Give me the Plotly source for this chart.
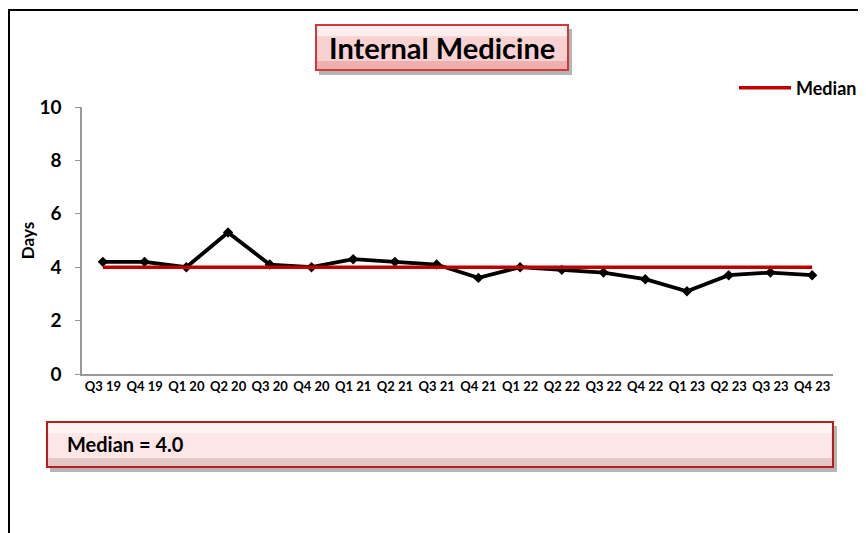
import plotly.graph_objects as go

# quarter labels and length-of-stay values (days)
quarters = ['Q3 19', 'Q4 19', 'Q1 20', 'Q2 20', 'Q3 20', 'Q4 20', 'Q1 21', 'Q2 21', 'Q3 21',
            'Q4 21', 'Q1 22', 'Q2 22', 'Q3 22', 'Q4 22', 'Q1 23', 'Q2 23', 'Q3 23', 'Q4 23']
days = [4.2, 4.2, 4.0, 5.3, 4.1, 4.0, 4.3, 4.2, 4.1,
        3.6, 4.0, 3.9, 3.8, 3.55, 3.1, 3.7, 3.8, 3.7]
median_value = 4.0
median_line = [median_value] * len(quarters)

FONT = 'Lato'

# page offset (body margin) and plot area in page pixels
OFF = 8
L, R, T, B = 82, 833, 107, 374
W, H = 866 - OFF, 533 - OFF


def px_x(p):
    return (p - L) / (R - L)


def px_y(p):
    return (B - p) / (B - T)


def box(x0, y0, x1, y1, fill, top, bottom, border):
    """bevelled box: shadow, body, highlight strip, dark strip, border"""
    h = y1 - y0
    return [
        dict(type='rect', xref='paper', yref='paper', layer='above',
             x0=px_x(x0 + 3), x1=px_x(x1 + 4), y0=px_y(y0 + 4), y1=px_y(y1 + 5),
             fillcolor='rgba(90,90,90,0.45)', line=dict(width=0)),
        dict(type='rect', xref='paper', yref='paper', layer='above',
             x0=px_x(x0), x1=px_x(x1), y0=px_y(y0), y1=px_y(y1),
             fillcolor=fill, line=dict(width=0)),
        dict(type='rect', xref='paper', yref='paper', layer='above',
             x0=px_x(x0), x1=px_x(x1), y0=px_y(y0), y1=px_y(y0 + h * 0.25),
             fillcolor=top, line=dict(width=0)),
        dict(type='rect', xref='paper', yref='paper', layer='above',
             x0=px_x(x0), x1=px_x(x1), y0=px_y(y1 - h * 0.2), y1=px_y(y1),
             fillcolor=bottom, line=dict(width=0)),
        dict(type='rect', xref='paper', yref='paper', layer='above',
             x0=px_x(x0), x1=px_x(x1), y0=px_y(y0), y1=px_y(y1),
             fillcolor='rgba(0,0,0,0)', line=dict(color=border, width=2)),
    ]


fig = go.Figure()

fig.add_trace(go.Scatter(
    x=quarters, y=days, mode='lines+markers', name='Days',
    line=dict(color='black', width=3.8),
    marker=dict(symbol='diamond', size=8, color='black'),
    showlegend=False,
))
fig.add_trace(go.Scatter(
    x=quarters, y=median_line, mode='lines', name='<b>Median</b>',
    line=dict(color='#c00000', width=3.5),
))

shapes = []
# outer frame (top and left edges visible)
shapes.append(dict(type='path', xref='paper', yref='paper', layer='above',
                   path='M {} {} L {} {} L {} {}'.format(px_x(9), px_y(540), px_x(9), px_y(10),
                                                          px_x(880), px_y(10)),
                   line=dict(color='black', width=2)))
shapes += box(316, 25, 568, 70, '#f8d2d2', '#fdeeee', '#efb0b0', '#d23a3a')
shapes += box(47, 422, 833, 467, '#fde6e6', '#fff3f3', '#e3c6c6', '#b81c1c')

annotations = [
    dict(text='<b>Internal Medicine</b>', xref='paper', yref='paper',
         x=px_x(442), y=px_y(48), xanchor='center', yanchor='middle', showarrow=False,
         font=dict(family=FONT, size=29, color='black')),
    dict(text='<b>Median = 4.0</b>', xref='paper', yref='paper',
         x=px_x(65), y=px_y(444), xanchor='left', yanchor='middle', showarrow=False,
         font=dict(family=FONT, size=20, color='black')),
]

fig.update_layout(
    width=W, height=H,
    margin=dict(l=L - OFF, r=W - (R - OFF), t=T - OFF, b=H - (B - OFF), autoexpand=False),
    paper_bgcolor='white', plot_bgcolor='white',
    font=dict(family=FONT, color='black'),
    shapes=shapes, annotations=annotations,
    legend=dict(x=px_x(734), y=px_y(88), xanchor='left', yanchor='middle',
                font=dict(family=FONT, size=18, color='black'),
                bgcolor='rgba(0,0,0,0)', itemwidth=52),
)
fig.update_xaxes(
    type='category', range=[-0.5, len(quarters) - 0.5],
    showline=True, linecolor='#999999', linewidth=1.5,
    showgrid=False, ticks='', zeroline=False,
    tickfont=dict(family=FONT, size=13, color='black', weight='bold'),
    tickangle=0,
)
fig.update_yaxes(
    range=[0, 10], tickvals=[0, 2, 4, 6, 8, 10],
    showline=True, linecolor='#999999', linewidth=1.5,
    ticks='outside', ticklen=5, tickcolor='#999999',
    showgrid=False, zeroline=False,
    tickfont=dict(family=FONT, size=19, color='black', weight='bold'),
    ticklabelstandoff=10,
    title=dict(text='<b>Days</b>', font=dict(family=FONT, size=17, color='black'), standoff=0),
)

fig.write_html("out.html")
